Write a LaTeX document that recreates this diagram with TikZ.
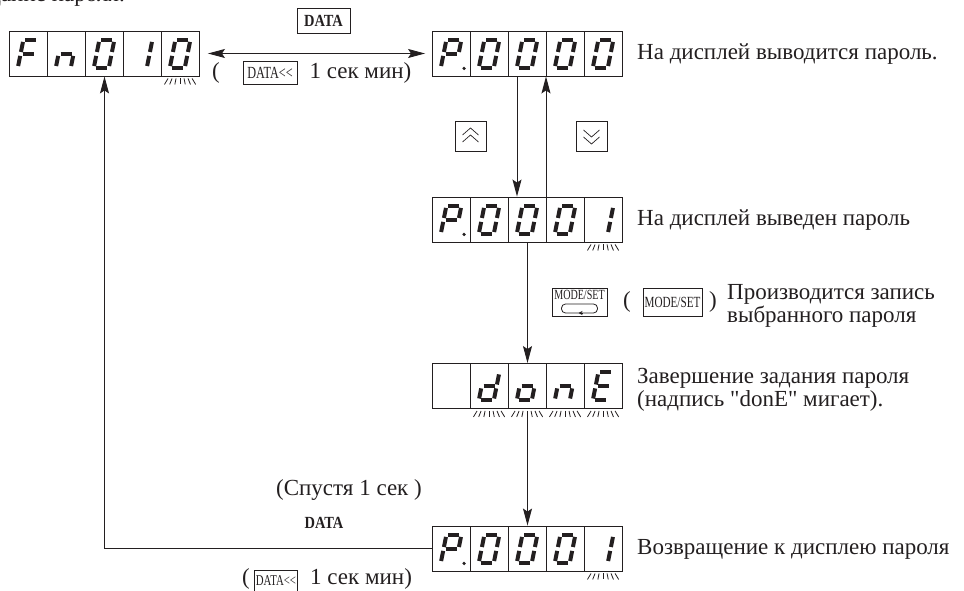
\documentclass[tikz,border=0pt]{standalone}
\usepackage{fontspec}
\setmainfont{Liberation Serif}
\newfontfamily\keyfont[FakeStretch=0.72]{Liberation Serif}
\newfontfamily\keyboldfont[FakeStretch=0.85]{Liberation Serif}
\usetikzlibrary{positioning,arrows.meta,calc}
\definecolor{ink}{HTML}{231F20}
% straight double quote, kept out of the TeX quote mapping
\newcommand{\dq}{\XeTeXglyph\numexpr\XeTeXcharglyph"22\relax}

% seven-segment glyphs, as lists of segment end points
\def\glF{tl/tr,tl/ml,ml/bl,ml/mr}
\def\gln{ml/mr,ml/bl,mr/br}
\def\glO{tl/tr,tr/mr,mr/br,bl/br,ml/bl,tl/ml}
\def\glI{tr/mr,mr/br}
\def\glP{tl/tr,tr/mr,tl/ml,ml/mr,ml/bl}
\def\gld{tr/mr,mr/br,bl/br,ml/bl,ml/mr}
\def\glo{mr/br,bl/br,ml/bl,ml/mr}
\def\glE{tl/tr,bl/br,ml/bl,tl/ml,ml/mr}
\def\glX{}

% five-cell display: name, centre, glyphs
\newcommand{\lcd}[3]{%
  \node[lcdbox] (#1) at (#2) {};
  \foreach \k in {1,...,4}
    \draw[lcdline] ($(#1.south west)+(38*\k,0)$) -- ++(0,45);
  \foreach \g [count=\k] in {#3} {
    \edef\seglist{\csname gl\g\endcsname}
    \ifx\seglist\empty\else
    \begin{scope}[shift={($(#1.south west)+(38*\k-19,22.5)$)}, xslant=0.2]
      \coordinate (tl) at (-7.5,14);  \coordinate (tr) at (7.5,14);
      \coordinate (ml) at (-7.5,0);   \coordinate (mr) at (7.5,0);
      \coordinate (bl) at (-7.5,-14); \coordinate (br) at (7.5,-14);
      \foreach \p/\q in \seglist \draw[segline] (\p) -- (\q);
    \end{scope}
    \fi
  }}

% blinking marks under cells
\newcommand{\blink}[2]{%
  \foreach \k in {#2}
    \foreach \m in {-12,-8,-4,0,4,8,12}
      \draw[blinkline] ($(#1.south west)+(38*\k-19+\m,-2)$) -- ++({0.3*\m},-6);
}

\begin{document}
\begin{tikzpicture}[x=1pt, y=1pt,
  >={Stealth[length=17pt, width=9pt, inset=3pt]},
  lcdbox/.style={draw=ink, line width=0.9pt, minimum width=190pt, minimum height=45pt, inner sep=0pt},
  lcdline/.style={draw=ink, line width=0.9pt},
  segline/.style={draw=ink, line width=4pt, shorten <=2pt, shorten >=2pt},
  blinkline/.style={draw=ink, line width=0.8pt},
  keybox/.style={draw=ink, line width=0.8pt, inner sep=0pt},
  keytxt/.style={font=\keyfont\fontsize{17}{17}\selectfont, text=ink},
  keybold/.style={font=\keyboldfont\bfseries\fontsize{17}{17}\selectfont, text=ink},
  chev/.style={draw=ink, line width=0.7pt},
  txt/.style={inner sep=0pt, font=\fontsize{23}{23}\selectfont, text=ink, align=left},
  flow/.style={draw=ink, line width=1pt},
]
\useasboundingbox (0,0) rectangle (964,590);
% -- heading, cut by the page edge
\node[txt, anchor=base east] (title) at (125,588) {Задание пароля.};
% -- displays
\lcd{fnd}{104.5,536.5}{F,n,O,I,O}
\lcd{pw0}{527.5,536.5}{P,O,O,O,O}
\lcd{pw1}{527.5,370.5}{P,O,O,O,I}
\lcd{done}{527.5,204}{X,d,o,n,E}
\lcd{ret}{527.5,41.5}{P,O,O,O,I}
\foreach \d in {pw0,pw1,ret} \fill[ink] ($(\d.south west)+(32,8)$) circle (1.8);
\blink{fnd}{5}
\blink{pw1}{5}
\blink{done}{2,3,4,5}
\blink{ret}{5}
% -- messages
\node[txt, anchor=base west] (msg0) at (637,530.5) {На дисплей выводится пароль.};
\node[txt, anchor=base west] (msg1) at (637,364.5) {На дисплей выведен пароль};
\node[txt, anchor=west] (msg2) at (727,284) {Производится запись\\выбранного пароля};
\node[txt, anchor=west] (msg3) at (637,200) {Завершение задания пароля\\(надпись \dq donE\dq{} мигает).};
\node[txt, anchor=base west] (msg4) at (637,35.5) {Возвращение к дисплею пароля};
% -- DATA key, top
\node[keybox, minimum width=53pt, minimum height=25pt, keybold] (datakey) at (323.5,569) {DATA};
\node[txt] (opA) at (216,517) {(};
\node[keybox, minimum width=54pt, minimum height=23pt, keytxt] (dkA) at (270,517) {DATA<\kern0pt<};
\node[txt, right=12pt of dkA] (secA) {1 сек мин)};
% -- up / down keys
\node[keybox, minimum width=31pt, minimum height=30pt] (upkey) at (470.5,454) {};
\draw[chev] ($(upkey.center)+(-8,1)$) -- ++(8,7) -- ++(8,-7);
\draw[chev] ($(upkey.center)+(-8,-6)$) -- ++(8,7) -- ++(8,-7);
\node[keybox, minimum width=31pt, minimum height=30pt] (dnkey) at (591.5,454) {};
\draw[chev] ($(dnkey.center)+(-8,-1)$) -- ++(8,-7) -- ++(8,7);
\draw[chev] ($(dnkey.center)+(-8,6)$) -- ++(8,-7) -- ++(8,7);
% -- MODE/SET keys
\node[keybox, minimum width=55pt, minimum height=28pt] (modekey) at (579.5,288) {};
\node[keytxt, inner sep=0pt, anchor=north, font=\keyfont\fontsize{14}{14}\selectfont] (modetxt)
  at ([yshift=-2pt]modekey.north) {MODE/SET};
\draw[draw=ink, line width=0.8pt, rounded corners=4pt]
  ($(modekey.center)+(-18,-11)$) rectangle ($(modekey.center)+(18,-2)$);
\draw[-{Stealth[length=4pt, width=4pt]}, draw=ink, line width=0.8pt]
  ($(modekey.center)+(3,-11)$) -- ++(-4,0);
\node[txt] (opB) at (627,288) {(};
\node[keybox, minimum width=59pt, minimum height=28pt, keytxt, font=\keyfont\fontsize{15.5}{15.5}\selectfont] (modesm) at (672.5,288) {MODE/SET};
\node[txt] (clB) at (713,288) {)};
% -- return path labels
\node[txt] (after) at (349,100) {(Спустя 1 сек )};
\node[keybold, inner sep=0pt] (datalbl) at (324,67.5) {DATA};
\node[txt] (opC) at (246,11) {(};
\node[keybox, minimum width=43pt, minimum height=22pt, keytxt, font=\keyfont\fontsize{15}{15}\selectfont] (dkC) at (276,9) {DATA<\kern0pt<};
\node[txt, anchor=west] (secC) at (310,11) {1 сек мин)};
% -- connectors
\draw[flow, <->, shorten <=8pt, shorten >=7pt] (fnd.east) -- (pw0.west);
\draw[flow, ->] ([xshift=-10.5pt]pw0.south) -- ([xshift=-10.5pt]pw1.north);
\draw[flow, ->] ([xshift=18.5pt]pw1.north) -- ([xshift=18.5pt]pw0.south);
\draw[flow, ->] (pw1.south) -- (done.north);
\draw[flow, ->] ([yshift=-8pt]done.south) -- (ret.north);
\draw[flow, ->] (ret.west) -| (fnd.south);
\end{tikzpicture}
\end{document}
